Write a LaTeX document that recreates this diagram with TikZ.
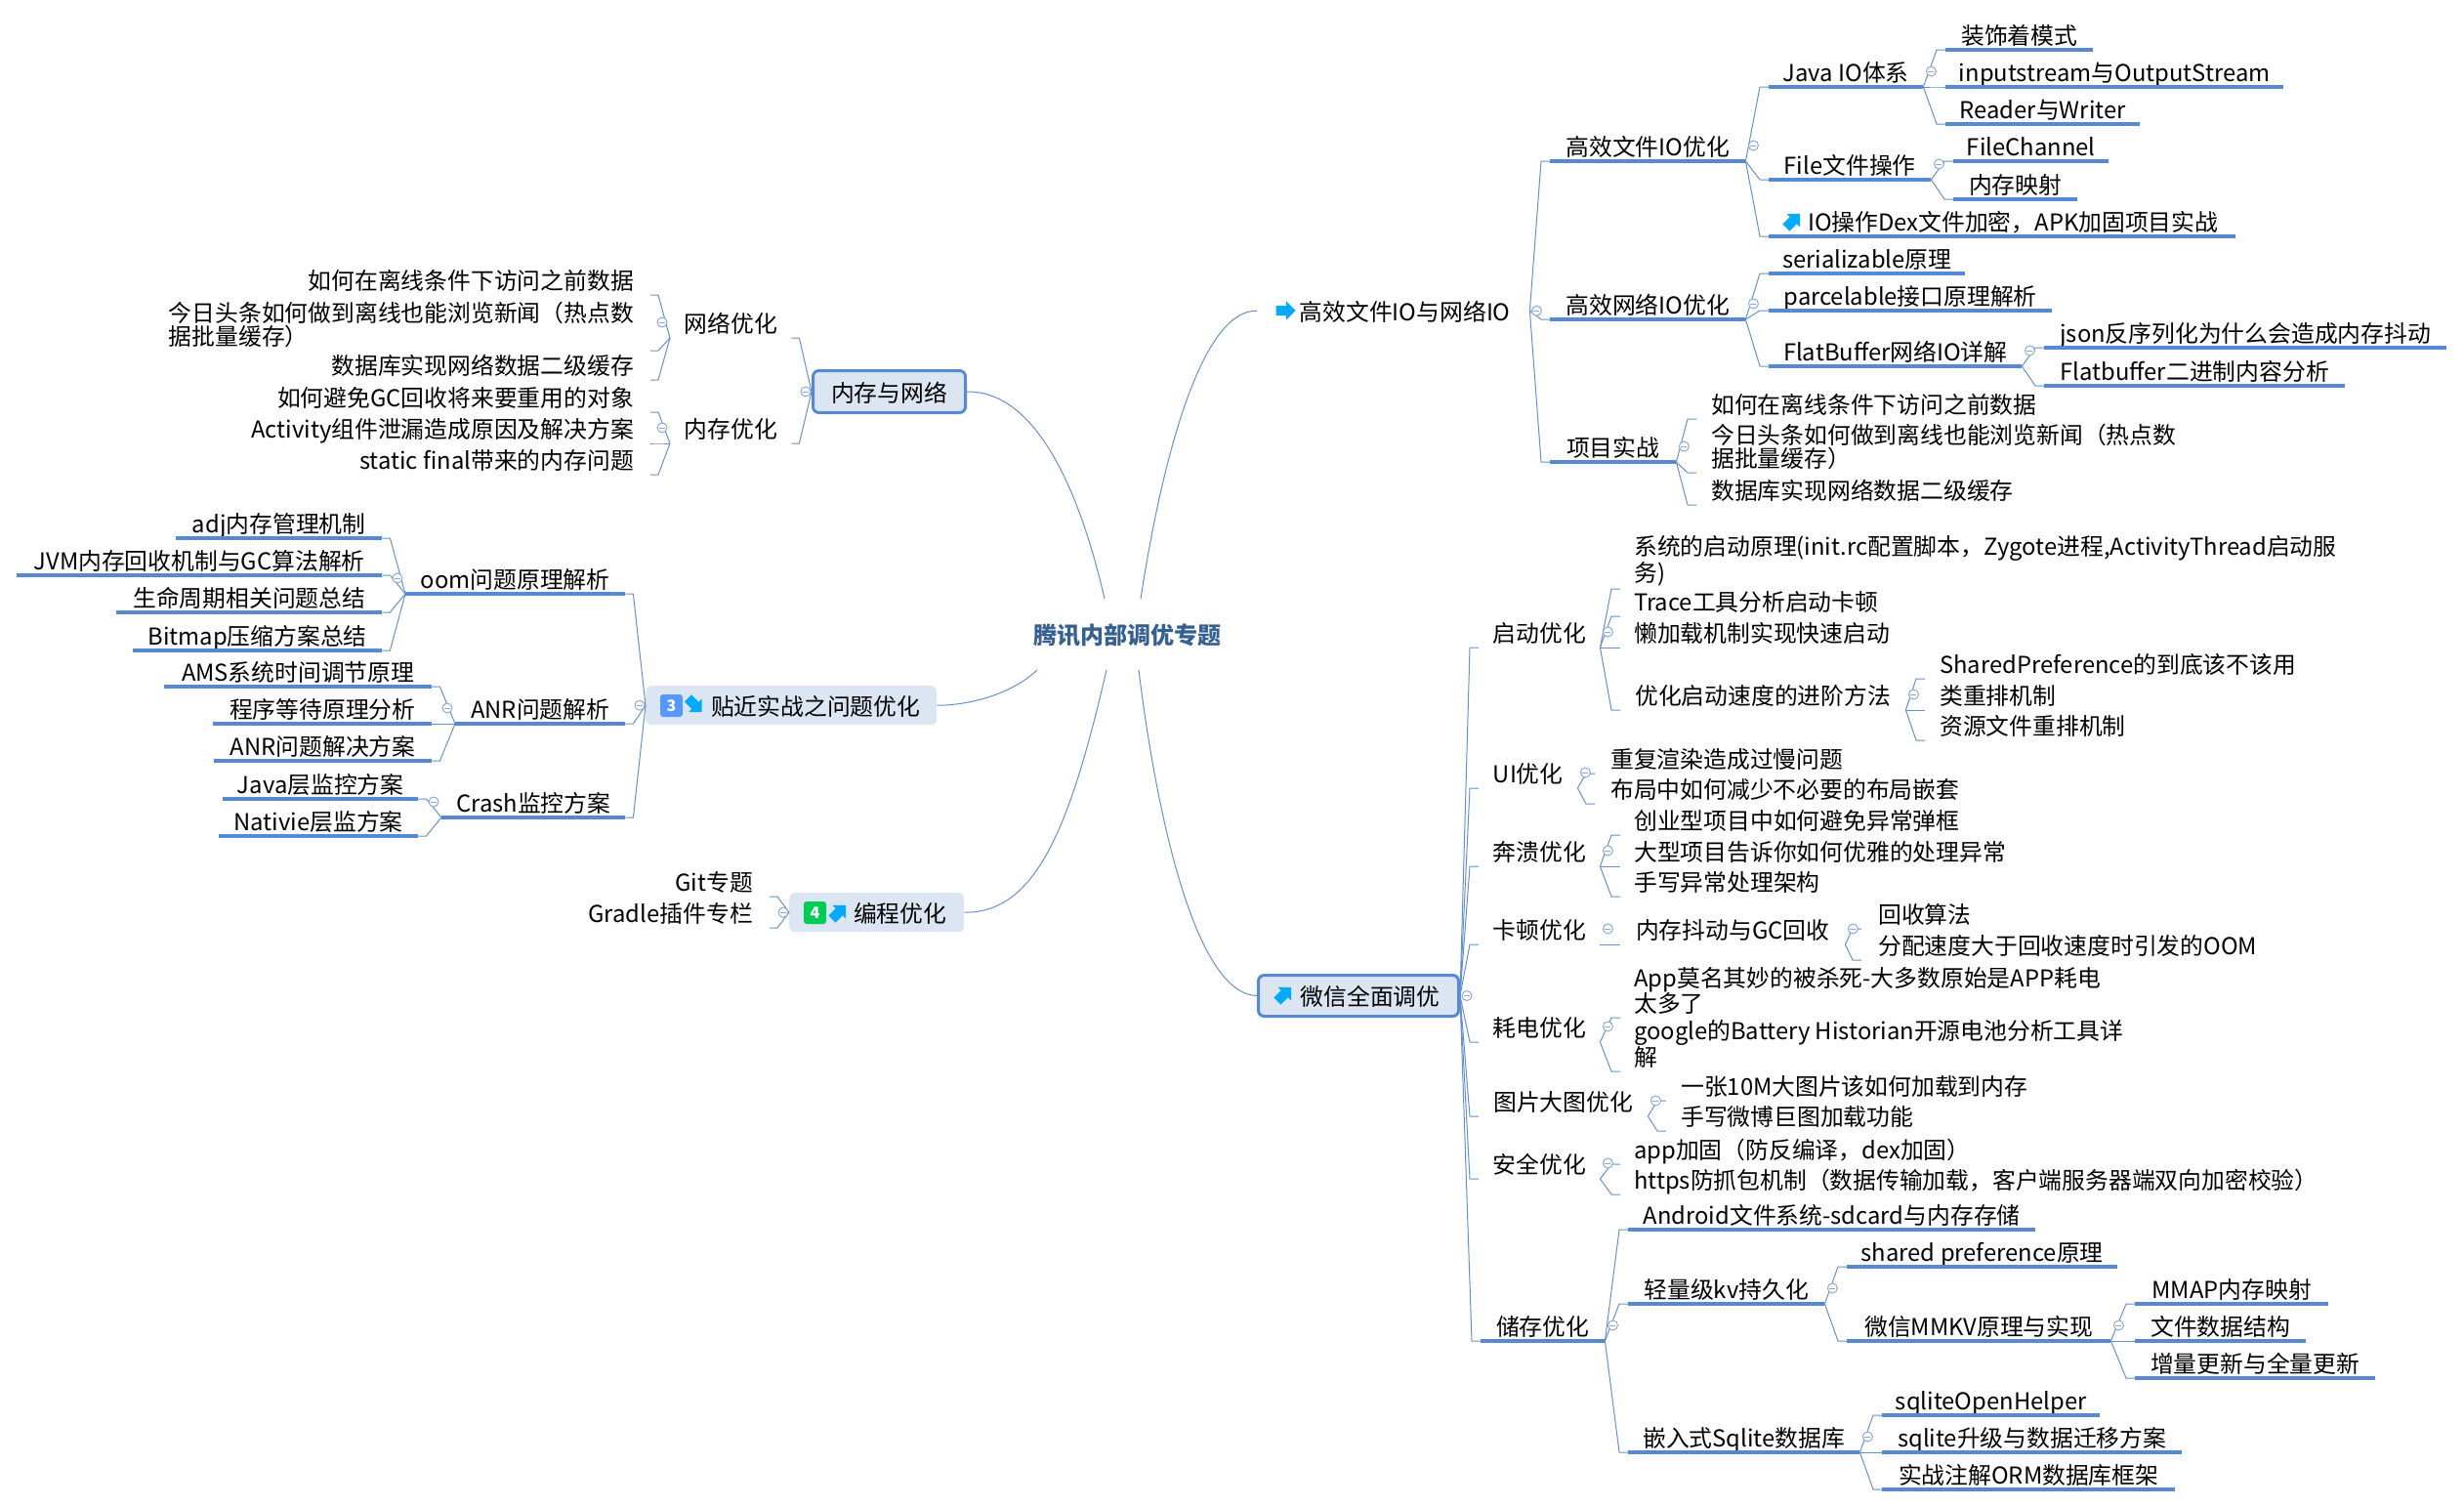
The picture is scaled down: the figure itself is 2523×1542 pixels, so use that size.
\documentclass[tikz,border=0pt]{standalone}
\usepackage{fontspec}
\setmainfont{Noto Sans CJK SC}
\usetikzlibrary{calc}
\definecolor{linkblue}{HTML}{6490CC}
\definecolor{lineblue}{HTML}{558AD3}
\definecolor{boxfill}{HTML}{DCE6F2}
\definecolor{titleblue}{HTML}{376092}
\definecolor{tipblue}{HTML}{00ABFF}
\definecolor{foldblue}{HTML}{8CA9D8}
\definecolor{badgeblue}{HTML}{5599FF}
\definecolor{badgegreen}{HTML}{00CC55}
\tikzset{
	label font/.style={font=\fontsize{23.8}{24}\selectfont},
	item/.style={label font,anchor=south west,inner sep=0,minimum height=30,text height=22,text depth=2},
	leafr/.style={label font,anchor=south west,inner xsep=14,inner ysep=3,text height=22,text depth=2},
	leafl/.style={label font,anchor=south east,inner xsep=17,inner ysep=3,text height=22,text depth=2},
	twolines/.style={align=left,text height=,text depth=},
	topic/.style={label font,anchor=north west,inner sep=0,rounded corners=6,text height=22,text depth=2},
	framed/.style={draw=lineblue,line width=3,fill=boxfill},
	link/.style={draw=linkblue,line width=1},
	uline/.style={draw=lineblue,line width=4},
	fold/.style={circle,draw=foldblue,line width=1,fill=white,minimum size=10,inner sep=0,
		path picture={\draw[foldblue,line width=1] ($(path picture bounding box.west)+(2,0)$) -- ($(path picture bounding box.east)+(-2,0)$);}},
	tipicon/.pic={\fill[tipblue] (-10,-5) -- (0.5,-5) -- (0.5,-9.5) -- (10,0) -- (0.5,9.5) -- (0.5,5) -- (-10,5) -- cycle;},
	badge/.style={rounded corners=3,inner sep=0,minimum size=23,text=white,font=\fontsize{16}{16}\selectfont\bfseries}
}
\begin{document}
\begin{tikzpicture}[x=1pt,y=-1pt]
	\useasboundingbox (0,0) rectangle (2523,1542);
	\node[font=\fontsize{24}{24}\selectfont\bfseries,text=titleblue,inner sep=0] (title) at (1154,650) {腾讯内部调优专题};
	\coordinate (titlenl) at (1131,613);
	\coordinate (titlenr) at (1168,613);
	\coordinate (titlesl) at (1062,686);
	\coordinate (titlesm) at (1133,686);
	\coordinate (titlesr) at (1166,686);

	\node[topic,minimum width=279,minimum height=42] (fileroot) at (1287,297) {\hspace*{24pt}高效文件IO与网络IO};
	\pic at (1316.5,318) {tipicon};
	\node[item,minimum width=200] (fileio) at (1587,165) {高效文件IO优化};
	\node[item,minimum width=158] (javaio) at (1811,89) {Java IO体系};
	\node[item,minimum width=151] (decorator) at (1992,51) {装饰着模式};
	\node[item,minimum width=346] (inputstream) at (1992,89) {inputstream与OutputStream};
	\node[item,minimum width=199] (readerwriter) at (1992,127) {Reader与Writer};
	\node[item,minimum width=166] (fileop) at (1811,184) {File文件操作};
	\node[item,minimum width=159] (filechannel) at (2000,165) {FileChannel};
	\node[item,minimum width=127] (mmapfile) at (2000,204) {内存映射};
	\node[item,minimum width=478] (dexfix) at (1811,242) {\hspace*{22pt}IO操作Dex文件加密，APK加固项目实战};
	\pic[rotate=45] at (1836,226) {tipicon};
	\node[item,minimum width=200] (netio) at (1587,327) {高效网络IO优化};
	\node[item,minimum width=201] (serial) at (1811,280) {serializable原理};
	\node[item,minimum width=290] (parcel) at (1811,318) {parcelable接口原理解析};
	\node[item,minimum width=259] (flatnet) at (1811,375) {FlatBuffer网络IO详解};
	\node[item,minimum width=412] (jsonjitter) at (2093,356) {json反序列化为什么会造成内存抖动};
	\node[item,minimum width=308] (flatbin) at (2093,395) {Flatbuffer二进制内容分析};
	\node[item,minimum width=129] (project) at (1587,473) {项目实战};
	\node[leafr,inner xsep=15] (offline) at (1737,429) {如何在离线条件下访问之前数据};
	\node[leafr,twolines,inner xsep=15] (toutiao) at (1737,484) {今日头条如何做到离线也能浏览新闻（热点数\\据批量缓存）};
	\node[leafr,inner xsep=15] (dbcache) at (1737,517) {数据库实现网络数据二级缓存};

	\node[topic,framed,minimum width=205,minimum height=42] (wechat) at (1287,997) {\hspace*{24pt}微信全面调优};
	\pic[rotate=45] at (1315,1018) {tipicon};
	\node[item,minimum width=124] (boot) at (1514,663) {启动优化};
	\node[leafr,twolines] (initrc) at (1659,603) {系统的启动原理(init.rc配置脚本，Zygote进程,ActivityThread启动服\\务)};
	\node[leafr] (trace) at (1659,631) {Trace工具分析启动卡顿};
	\node[leafr] (lazyload) at (1659,663) {懒加载机制实现快速启动};
	\node[item,minimum width=292] (bootadv) at (1659,727) {优化启动速度的进阶方法};
	\node[leafr,inner xsep=15] (sharedpref) at (1971,695) {SharedPreference的到底该不该用};
	\node[leafr,inner xsep=15] (classsort) at (1971,727) {类重排机制};
	\node[leafr,inner xsep=15] (ressort) at (1971,758) {资源文件重排机制};
	\node[item,minimum width=101] (ui) at (1514,807) {UI优化};
	\node[leafr,inner xsep=16] (overdraw) at (1633,792) {重复渲染造成过慢问题};
	\node[leafr,inner xsep=16] (nesting) at (1633,823) {布局中如何减少不必要的布局嵌套};
	\node[item,minimum width=124] (crash) at (1514,887) {奔溃优化};
	\node[leafr] (dialog) at (1659,855) {创业型项目中如何避免异常弹框};
	\node[leafr] (bigproject) at (1659,887) {大型项目告诉你如何优雅的处理异常};
	\node[leafr] (crashframe) at (1659,918) {手写异常处理架构};
	\node[item,minimum width=124] (jank) at (1514,967) {卡顿优化};
	\node[item,minimum width=230] (gcjitter) at (1659,967) {内存抖动与GC回收};
	\node[leafr,inner xsep=17] (recycle) at (1906,951) {回收算法};
	\node[leafr,inner xsep=17] (allocoom) at (1906,983) {分配速度大于回收速度时引发的OOM};
	\node[item,minimum width=124] (power) at (1514,1067) {耗电优化};
	\node[leafr,twolines] (appkill) at (1659,1042) {App莫名其妙的被杀死-大多数原始是APP耗电\\太多了};
	\node[leafr,twolines] (battery) at (1659,1097) {google的Battery Historian开源电池分析工具详\\解};
	\node[item,minimum width=173] (bitmap) at (1514,1143) {图片大图优化};
	\node[leafr,inner xsep=15] (bigimg) at (1706,1127) {一张10M大图片该如何加载到内存};
	\node[leafr,inner xsep=15] (weibo) at (1706,1158) {手写微博巨图加载功能};
	\node[item,minimum width=124] (secure) at (1514,1207) {安全优化};
	\node[leafr] (appfix) at (1659,1192) {app加固（防反编译，dex加固）};
	\node[leafr] (https) at (1659,1223) {https防抓包机制（数据传输加载，客户端服务器端双向加密校验）};
	\node[item,minimum width=127] (storage) at (1516,1373) {储存优化};
	\node[item,minimum width=417] (sdcard) at (1667,1259) {Android文件系统-sdcard与内存存储};
	\node[item,minimum width=201] (kv) at (1667,1335) {轻量级kv持久化};
	\node[item,minimum width=277] (sharedprefs) at (1891,1297) {shared preference原理};
	\node[item,minimum width=270] (mmkv) at (1891,1373) {微信MMKV原理与实现};
	\node[item,minimum width=198] (mmap) at (2186,1335) {MMAP内存映射};
	\node[item,minimum width=175] (filedata) at (2186,1373) {文件数据结构};
	\node[item,minimum width=246] (delta) at (2186,1411) {增量更新与全量更新};
	\node[item,minimum width=237] (sqlite) at (1667,1487) {嵌入式Sqlite数据库};
	\node[item,minimum width=223] (openhelper) at (1927,1449) {sqliteOpenHelper};
	\node[item,minimum width=307] (upgrade) at (1927,1487) {sqlite升级与数据迁移方案};
	\node[item,minimum width=300] (orm) at (1927,1525) {实战注解ORM数据库框架};

	\node[topic,framed,minimum width=156,minimum height=43] (memnet) at (831,378) {内存与网络};
	\node[item,minimum width=124] (netopt) at (686,346) {网络优化};
	\node[leafl] (loffline) at (666,302) {如何在离线条件下访问之前数据};
	\node[leafl,twolines] (ltoutiao) at (666,359) {今日头条如何做到离线也能浏览新闻（热点数\\据批量缓存）};
	\node[leafl] (ldbcache) at (666,389) {数据库实现网络数据二级缓存};
	\node[item,minimum width=124] (memopt) at (686,454) {内存优化};
	\node[leafl] (gcreuse) at (666,422) {如何避免GC回收将来要重用的对象};
	\node[leafl] (activity) at (666,454) {Activity组件泄漏造成原因及解决方案};
	\node[leafl] (staticfinal) at (666,486) {static final带来的内存问题};

	\node[topic,fill=boxfill,minimum width=298,minimum height=40] (practice) at (661,702) {\hspace*{50pt}贴近实战之问题优化};
	\node[badge,fill=badgeblue] (practicebadge) at (687.5,722.5) {3};
	\pic[rotate=-45] at (711.5,722) {tipicon};
	\node[item,minimum width=225] (oom) at (415,608) {oom问题原理解析};
	\node[item,minimum width=211] (adj) at (180,551) {adj内存管理机制};
	\node[item,minimum width=374] (jvm) at (17,589) {JVM内存回收机制与GC算法解析};
	\node[item,minimum width=272] (lifecycle) at (119,627) {生命周期相关问题总结};
	\node[item,minimum width=255] (bitmapz) at (136,666) {Bitmap压缩方案总结};
	\node[item,minimum width=174] (anr) at (466,741) {ANR问题解析};
	\node[item,minimum width=274] (ams) at (168,703) {AMS系统时间调节原理};
	\node[item,minimum width=224] (anrwait) at (218,741) {程序等待原理分析};
	\node[item,minimum width=223] (anrfix) at (219,779) {ANR问题解决方案};
	\node[item,minimum width=188] (crashmon) at (452,837) {Crash监控方案};
	\node[item,minimum width=200] (javamon) at (228,818) {Java层监控方案};
	\node[item,minimum width=204] (nativemon) at (224,856) {Nativie层监方案};

	\node[topic,fill=boxfill,minimum width=179,minimum height=40] (coding) at (808,914) {\hspace*{48pt}编程优化};
	\node[badge,fill=badgegreen] (codingbadge) at (834.5,934.5) {4};
	\pic[rotate=45] at (859,934) {tipicon};
	\node[leafl] (git) at (788,918) {Git专题};
	\node[leafl] (gradle) at (788,950) {Gradle插件专栏};

	\foreach \n in {fileio,javaio,decorator,inputstream,readerwriter,fileop,filechannel,mmapfile,dexfix,netio,serial,parcel,flatnet,jsonjitter,flatbin,project,storage,sdcard,kv,sharedprefs,mmkv,mmap,filedata,delta,sqlite,openhelper,upgrade,orm,oom,adj,jvm,lifecycle,bitmapz,anr,ams,anrwait,anrfix,crashmon,javamon,nativemon}
		\draw[uline] (\n.south west) -- (\n.south east);

	\foreach \p/\c in {fileroot.east/fileio,fileroot.east/netio,fileroot.east/project,
		fileio.south east/javaio,fileio.south east/fileop,fileio.south east/dexfix,
		javaio.south east/decorator,javaio.south east/inputstream,javaio.south east/readerwriter,
		fileop.south east/filechannel,fileop.south east/mmapfile,
		netio.south east/serial,netio.south east/parcel,netio.south east/flatnet,
		flatnet.south east/jsonjitter,flatnet.south east/flatbin,
		project.south east/offline,project.south east/toutiao,project.south east/dbcache,
		wechat.east/boot,wechat.east/ui,wechat.east/crash,wechat.east/jank,wechat.east/power,wechat.east/bitmap,wechat.east/secure,wechat.east/storage,
		boot.south east/initrc,boot.south east/trace,boot.south east/lazyload,boot.south east/bootadv,
		bootadv.south east/sharedpref,bootadv.south east/classsort,bootadv.south east/ressort,
		ui.south east/overdraw,ui.south east/nesting,
		crash.south east/dialog,crash.south east/bigproject,crash.south east/crashframe,
		jank.south east/gcjitter,gcjitter.south east/recycle,gcjitter.south east/allocoom,
		power.south east/appkill,power.south east/battery,
		bitmap.south east/bigimg,bitmap.south east/weibo,
		secure.south east/appfix,secure.south east/https,
		storage.south east/sdcard,storage.south east/kv,storage.south east/sqlite,
		kv.south east/sharedprefs,kv.south east/mmkv,
		mmkv.south east/mmap,mmkv.south east/filedata,mmkv.south east/delta,
		sqlite.south east/openhelper,sqlite.south east/upgrade,sqlite.south east/orm} {
		\coordinate (fork) at ($(\c.south west)+(-9,0)$ |- \p);
		\draw[link] (\p) -- (fork) .. controls (fork |- \c.south west) and ($(\c.south west)+(-6,0)$) .. (\c.south west);
	}

	\foreach \p/\c in {memnet.west/netopt,memnet.west/memopt,
		netopt.south west/loffline,netopt.south west/ltoutiao,netopt.south west/ldbcache,
		memopt.south west/gcreuse,memopt.south west/activity,memopt.south west/staticfinal,
		practice.west/oom,practice.west/anr,practice.west/crashmon,
		oom.south west/adj,oom.south west/jvm,oom.south west/lifecycle,oom.south west/bitmapz,
		anr.south west/ams,anr.south west/anrwait,anr.south west/anrfix,
		crashmon.south west/javamon,crashmon.south west/nativemon,
		coding.west/git,coding.west/gradle} {
		\coordinate (fork) at ($(\c.south east)+(8,0)$ |- \p);
		\draw[link] (\p) -- (fork) .. controls (fork |- \c.south east) and ($(\c.south east)+(6,0)$) .. (\c.south east);
	}

	\draw[link] (memnet.east) .. controls (1060,400) and (1105,500) .. (titlenl);
	\draw[link] (practice.east) .. controls (1000,722) and (1040,707) .. (titlesl);
	\draw[link] (coding.east) .. controls (1060,935) and (1095,850) .. (titlesm);
	\draw[link] (titlenr) .. controls (1190,470) and (1230,317) .. (fileroot.west);
	\draw[link] (titlesr) .. controls (1185,840) and (1225,1018) .. (wechat.west);

	\foreach \p in {fileio,javaio,fileop,netio,flatnet,project,boot,bootadv,ui,crash,jank,gcjitter,power,bitmap,secure,storage,kv,mmkv,sqlite}
		\node[fold] (fold\p) at ($(\p.south east)+(8,-16)$) {};
	\foreach \p in {netopt,memopt,oom,anr,crashmon}
		\node[fold] (fold\p) at ($(\p.south west)+(-8,-16)$) {};
	\foreach \p in {fileroot,wechat}
		\node[fold] (fold\p) at ($(\p.east)+(7,0)$) {};
	\foreach \p in {memnet,practice,coding}
		\node[fold] (fold\p) at ($(\p.west)+(-6,0)$) {};
\end{tikzpicture}
\end{document}
